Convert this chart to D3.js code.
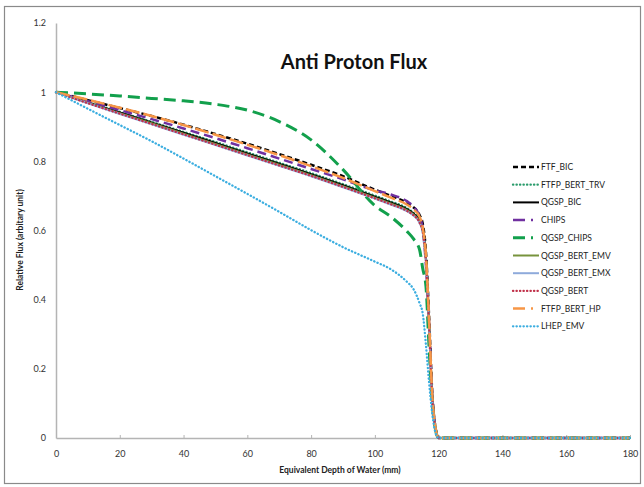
<html>
  <head>
    <style>
    body {
      margin: 0px;
      background: white;
    }
    text {
      font-family: Lato, "Open Sans", sans-serif;
    }
    </style>
  </head>
  <body>
    <div id="elm"></div>
    <script src="https://d3js.org/d3.v7.min.js"></script>
    <script>
    'use strict';

    // depth in mm, shared by every series
    var depth = [0, 10, 20, 30, 40, 50, 60, 70, 80, 90, 100, 105, 110, 112, 114, 115, 116, 117, 118, 119, 120, 130, 140, 150, 160, 170, 180];

    var seriesNames = ['FTF_BIC', 'FTFP_BERT_TRV', 'QGSP_BIC', 'CHIPS', 'QGSP_CHIPS', 'QGSP_BERT_EMV', 'QGSP_BERT_EMX', 'QGSP_BERT', 'FTFP_BERT_HP', 'LHEP_EMV'];

    var ftfBic       = [1, 0.977, 0.954, 0.931, 0.906, 0.879, 0.851, 0.821, 0.790, 0.757, 0.718, 0.700, 0.680, 0.668, 0.645, 0.620, 0.540, 0.350, 0.130, 0.030, 0, 0, 0, 0, 0, 0, 0];
    var ftfpBertTrv  = [1, 0.971, 0.943, 0.914, 0.885, 0.856, 0.826, 0.796, 0.766, 0.734, 0.701, 0.684, 0.665, 0.652, 0.630, 0.602, 0.520, 0.330, 0.120, 0.030, 0, 0, 0, 0, 0, 0, 0];
    var qgspBic      = [1, 0.970, 0.941, 0.912, 0.883, 0.853, 0.823, 0.793, 0.763, 0.731, 0.698, 0.681, 0.662, 0.650, 0.628, 0.600, 0.520, 0.330, 0.120, 0.030, 0, 0, 0, 0, 0, 0, 0];
    var chips        = [1, 0.974, 0.948, 0.922, 0.895, 0.867, 0.838, 0.808, 0.778, 0.748, 0.716, 0.704, 0.685, 0.670, 0.640, 0.605, 0.500, 0.330, 0.120, 0.030, 0, 0, 0, 0, 0, 0, 0];
    var qgspChips    = [1, 0.995, 0.989, 0.982, 0.975, 0.965, 0.948, 0.915, 0.862, 0.776, 0.672, 0.640, 0.598, 0.577, 0.545, 0.490, 0.440, 0.260, 0.100, 0.025, 0, 0, 0, 0, 0, 0, 0];
    var qgspBertEmv  = [1, 0.969, 0.939, 0.910, 0.880, 0.850, 0.820, 0.790, 0.760, 0.728, 0.695, 0.678, 0.659, 0.647, 0.625, 0.598, 0.515, 0.325, 0.115, 0.028, 0, 0, 0, 0, 0, 0, 0];
    var qgspBertEmx  = [1, 0.968, 0.937, 0.907, 0.877, 0.847, 0.817, 0.787, 0.757, 0.725, 0.692, 0.675, 0.656, 0.644, 0.622, 0.595, 0.510, 0.320, 0.110, 0.028, 0, 0, 0, 0, 0, 0, 0];
    var qgspBert     = [1, 0.968, 0.938, 0.908, 0.878, 0.848, 0.818, 0.788, 0.758, 0.726, 0.693, 0.676, 0.657, 0.645, 0.623, 0.596, 0.512, 0.322, 0.112, 0.028, 0, 0, 0, 0, 0, 0, 0];
    var ftfpBertHp   = [1, 0.978, 0.955, 0.931, 0.905, 0.877, 0.848, 0.818, 0.786, 0.752, 0.714, 0.695, 0.675, 0.662, 0.640, 0.610, 0.530, 0.340, 0.120, 0.030, 0, 0, 0, 0, 0, 0, 0];
    var lhepEmv      = [1, 0.952, 0.905, 0.858, 0.808, 0.757, 0.706, 0.654, 0.601, 0.552, 0.510, 0.488, 0.452, 0.432, 0.390, 0.360, 0.270, 0.160, 0.070, 0.015, 0, 0, 0, 0, 0, 0, 0];

    var xTicks = [0, 20, 40, 60, 80, 100, 120, 140, 160, 180];
    var yTicks = [0, 0.2, 0.4, 0.6, 0.8, 1, 1.2];

    var allValues = [ftfBic, ftfpBertTrv, qgspBic, chips, qgspChips, qgspBertEmv, qgspBertEmx, qgspBert, ftfpBertHp, lhepEmv];

    var DOT = '0.3,3.2';
    var styles = [
      { color: '#000000', width: 2.5, dash: '5,3', legendDash: '5,3' },
      { color: '#2b9c6c', width: 2.3, dash: DOT, legendDash: DOT },
      { color: '#000000', width: 2, dash: null, legendDash: null },
      { color: '#7030a0', width: 2.5, dash: '9,5', legendDash: '12,6,2,6' },
      { color: '#12a04c', width: 3, dash: '12,6', legendDash: '12,6,2,6' },
      { color: '#77933c', width: 2, dash: null, legendDash: null },
      { color: '#8eaadb', width: 2, dash: null, legendDash: null },
      { color: '#c0314a', width: 2.3, dash: DOT, legendDash: DOT },
      { color: '#f79646', width: 2.5, dash: '14,4', legendDash: '12,6,2,6' },
      { color: '#3caee0', width: 2.3, dash: DOT, legendDash: DOT }
    ];

    var W = 644, H = 487;
    var svg = d3.select('#elm').append('svg')
      .attr('width', W).attr('height', H);

    // outer frame
    svg.append('rect')
      .attr('x', 4.5).attr('y', 6.5)
      .attr('width', 636).attr('height', 477)
      .attr('fill', 'white')
      .attr('stroke', '#8a8a8a')
      .attr('stroke-width', 1.2);

    var x = d3.scaleLinear().domain([0, 180]).range([56, 630]);
    var y = d3.scaleLinear().domain([0, 1.2]).range([438, 23]);

    // y axis
    var yAxis = svg.append('g')
      .attr('transform', 'translate(56,0)')
      .call(d3.axisLeft(y).tickValues(yTicks).tickSize(0).tickPadding(10)
        .tickFormat(function (d) { return d3.format('')(+d.toFixed(1)); }));
    yAxis.select('.domain').attr('stroke', '#b4b4b4').attr('stroke-width', 1.5);
    yAxis.selectAll('text').attr('font-size', 9).attr('fill', '#333');

    // x axis
    var xAxis = svg.append('g')
      .attr('transform', 'translate(0,438)')
      .call(d3.axisBottom(x).tickValues(xTicks).tickSizeInner(-3).tickSizeOuter(0).tickPadding(13));
    xAxis.select('.domain').attr('stroke', '#b4b4b4').attr('stroke-width', 1.5);
    xAxis.selectAll('.tick line').attr('stroke', '#b4b4b4');
    xAxis.selectAll('text').attr('font-size', 9).attr('fill', '#333');

    // series
    var line = d3.line()
      .x(function (d, i) { return x(depth[i]); })
      .y(function (d) { return y(d); })
      .curve(d3.curveMonotoneX);

    allValues.forEach(function (vals, i) {
      var s = styles[i];
      svg.append('path')
        .attr('d', line(vals))
        .attr('fill', 'none')
        .attr('stroke', s.color)
        .attr('stroke-width', s.width)
        .attr('stroke-dasharray', s.dash)
        .attr('stroke-linecap', s.dash === DOT ? 'round' : 'butt')
        .attr('stroke-linejoin', 'round');
    });

    // title
    svg.append('text')
      .attr('x', 354).attr('y', 69)
      .attr('text-anchor', 'middle')
      .attr('font-size', 20)
      .attr('font-weight', 'bold')
      .attr('fill', '#111')
      .text('Anti Proton Flux');

    // axis titles
    svg.append('text')
      .attr('x', 340).attr('y', 473)
      .attr('text-anchor', 'middle')
      .attr('font-size', 8.5)
      .attr('font-weight', 'bold')
      .attr('fill', '#222')
      .text('Equivalent Depth of Water (mm)');

    svg.append('text')
      .attr('transform', 'translate(23,240) rotate(-90)')
      .attr('text-anchor', 'middle')
      .attr('font-size', 8.5)
      .attr('font-weight', 'bold')
      .attr('fill', '#222')
      .text('Relative Flux (arbitary unit)');

    // legend
    var legend = svg.append('g');
    seriesNames.forEach(function (name, i) {
      var s = styles[i];
      var ly = 167 + i * 17.7;
      legend.append('line')
        .attr('x1', 513).attr('x2', 539)
        .attr('y1', ly).attr('y2', ly)
        .attr('stroke', s.color)
        .attr('stroke-width', s.width)
        .attr('stroke-dasharray', s.legendDash)
        .attr('stroke-linecap', s.legendDash === DOT ? 'round' : 'butt');
      legend.append('text')
        .attr('x', 541).attr('y', ly + 3)
        .attr('font-size', 8.5)
        .attr('fill', '#222')
        .text(name);
    });
    </script>
  </body>
</html>
